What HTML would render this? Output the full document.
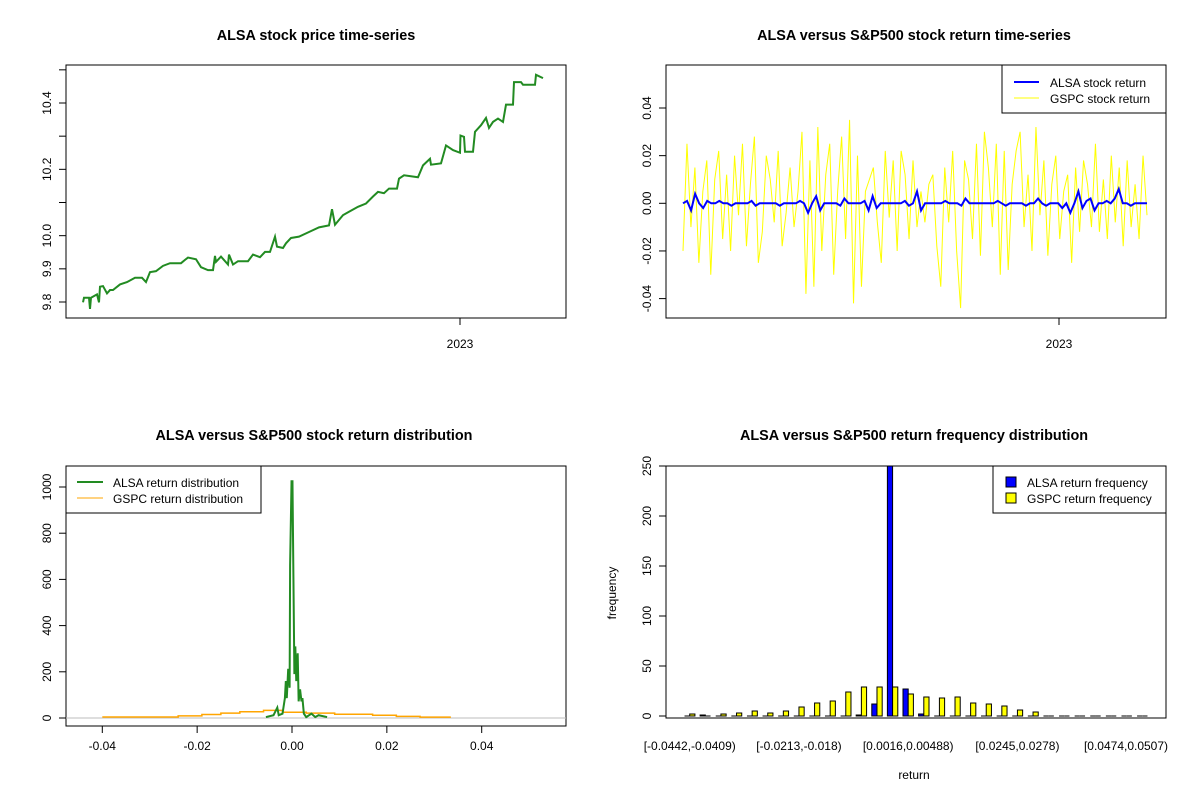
<!DOCTYPE html>
<html><head><meta charset="utf-8"><style>
body{margin:0;background:#fff}
svg{display:block;font-family:"Liberation Sans",Arial,sans-serif}
</style></head><body>
<svg id="c" width="1200" height="800" viewBox="0 0 1200 800"></svg>
<script>
// ---------- data ----------
const priceDays=[0,1,6,7,8,14,16,17,20,24,27,30,37,44,52,59,63,67,73,80,87,98,102,105,113,118,125,130,132,133,138,145,146,150,155,165,170,177,182,187,192,194,200,203,208,216,226,236,246,249,252,260,266,275,283,290,295,301,306,314,316,321,335,340,347,348,358,363,370,377,377.5,381,382,390,392,398,403,406,410,415,420,423,430,431,438,440,452,453,460];
const priceVals=[9.799,9.813,9.813,9.779,9.813,9.823,9.799,9.846,9.848,9.826,9.836,9.836,9.853,9.860,9.873,9.873,9.860,9.890,9.893,9.909,9.917,9.917,9.927,9.934,9.929,9.905,9.896,9.896,9.939,9.921,9.937,9.913,9.943,9.913,9.923,9.923,9.943,9.935,9.951,9.951,9.997,9.967,9.963,9.977,9.993,9.997,10.011,10.025,10.031,10.080,10.033,10.062,10.072,10.087,10.097,10.118,10.132,10.128,10.142,10.142,10.172,10.182,10.176,10.212,10.232,10.214,10.218,10.272,10.258,10.250,10.302,10.298,10.253,10.253,10.313,10.333,10.355,10.325,10.343,10.353,10.343,10.395,10.395,10.463,10.463,10.455,10.455,10.485,10.475];
const gspcRet=[-20,25,-10,15,-25,5,18,-30,10,22,-15,12,-20,20,-5,25,-18,8,28,-25,-12,20,10,-8,22,-18,-4,15,-10,5,30,-38,18,-35,32,-20,12,25,-30,5,28,-15,35,-42,20,-35,5,10,15,-8,-25,22,-6,18,-20,22,12,-15,18,-10,5,-8,8,12,-18,-35,15,-8,22,-20,-44,18,10,-15,25,-22,30,15,-10,25,-30,22,-28,8,22,30,-10,12,-20,32,-5,18,-22,8,20,-15,5,12,-25,15,-12,18,8,-10,25,-12,10,-15,20,-8,15,-18,18,-10,8,-15,20,-5];
const alsaRet=[0,1,-3,4,0,-2,1,0,0,1,0,0,-1,0,0,0,0,1,-1,0,0,0,0,0,-1,0,0,0,0,1,0,-4,0,3,-3,0,0,0,0,-1,2,0,0,0,0,1,-3,3,-2,0,0,0,0,0,0,1,-1,0,5,-3,0,0,0,0,0,1,0,0,0,-1,2,0,0,0,0,0,0,0,1,0,-1,0,0,0,0,-1,0,0,2,0,-1,0,0,0,-2,0,-4,0,5,-2,1,2,-3,0,0,1,0,2,6,0,0,-1,0,0,0,0];
const alsaDensX=[-0.0055,-0.0039,-0.0031,-0.0028,-0.002,-0.0015,-0.0013,-0.0011,-0.0008,-0.0005,-0.0004,-0.0001,0.0001,0.0003,0.0005,0.0007,0.0009,0.0012,0.0014,0.0017,0.002,0.0022,0.0025,0.003,0.0041,0.0049,0.0056,0.0074];
const alsaDensY=[4,12,45,12,19,86,160,86,213,131,660,1025,1025,608,190,310,160,280,72,124,72,86,19,4,19,4,12,4];
const gspcDensX=[-0.04,-0.024,-0.019,-0.015,-0.011,-0.006,-0.002,0.003,0.009,0.017,0.022,0.027,0.0335];
const gspcDensY=[4.5,9,15,21,27,33,25,21,16,12,7,4,4];
const binLabels=["[-0.0442,-0.0409)","[-0.0213,-0.018)","[0.0016,0.00488)","[0.0245,0.0278)","[0.0474,0.0507)"];
const alsaFreq=[0,1,0,0,0,0,0,0,0,0,0,1,12,330,27,2,0,0,0,0,0,0,0,0,0,0,0,0,0,0];
const gspcFreq=[2,0,2,3,5,3,5,9,13,15,24,29,29,29,22,19,18,19,13,12,10,6,4,0,0,0,0,0,0,0];

// ---------- helpers ----------
const svg=document.getElementById('c');const NS='http://www.w3.org/2000/svg';
function mk(tag,attrs,parent,name,txt){const e=document.createElementNS(NS,tag);for(const k in attrs)e.setAttribute(k,attrs[k]);


if(txt!==undefined)e.textContent=txt;(parent||svg).appendChild(e);return e;}
function lin(d0,d1,r0,r1){return v=>r0+(v-d0)/(d1-d0)*(r1-r0);}
function box(x0,y0,x1,y1,g,n){mk('rect',{x:x0,y:y0,width:x1-x0,height:y1-y0,fill:'none',stroke:'#000','stroke-width':1},g,n);}
function yTick(x,y,label,g){mk('line',{x1:x-7,x2:x,y1:y,y2:y,stroke:'#000'},g,'y-tick');if(label!==null)mk('text',{x:x-15,y:y,'font-size':12,'text-anchor':'middle',transform:`rotate(-90 ${x-15} ${y})`},g,'y-tick-label',label);}
function xTick(x,y,label,g,ly){mk('line',{x1:x,x2:x,y1:y,y2:y+7,stroke:'#000'},g,'x-tick');if(label!==null)mk('text',{x:x,y:ly||y+30,'font-size':12,'text-anchor':'middle'},g,'x-tick-label',label);}
function title(x,y,t,g){mk('text',{x:x,y:y,'font-size':14.4,'font-weight':'bold','text-anchor':'middle'},g,'chart-title',t);}

// ---------- panel 1 ----------
{const g=mk('g',{},svg,'price-panel');
const X=lin(0,464,83,547),Y=lin(9.8,10.4,302,103);
title(316,40,'ALSA stock price time-series',g);
box(66,65,566,318,g,'plot-frame');
[9.8,9.9,10.0,10.1,10.2,10.3,10.4,10.5].forEach(v=>{const lab={9.8:'9.8',9.9:'9.9',10:'10.0',10.2:'10.2',10.4:'10.4'}[v];yTick(66,Y(v),lab===undefined?null:lab,g);});
xTick(460,318,'2023',g,348);
mk('polyline',{points:priceDays.map((d,i)=>X(d)+','+Y(priceVals[i])).join(' '),fill:'none',stroke:'#228b22','stroke-width':2},g,'alsa-price-line');}

// ---------- panel 2 ----------
{const g=mk('g',{},svg,'return-panel');
title(914,40,'ALSA versus S&P500 stock return time-series',g);
const n=gspcRet.length;const X=lin(0,n-1,683,1147),Y=lin(0,0.04,203.3,108);
box(666,65,1166,318,g,'plot-frame');
[[-0.04,'-0.04'],[-0.02,'-0.02'],[0,'0.00'],[0.02,'0.02'],[0.04,'0.04']].forEach(t=>yTick(666,Y(t[0]),t[1],g));
xTick(1059,318,'2023',g,348);
mk('polyline',{points:gspcRet.map((v,i)=>X(i)+','+Y(v/1000)).join(' '),fill:'none',stroke:'#ffff00','stroke-width':1},g,'gspc-return-line');
const Xa=lin(0,alsaRet.length-1,683,1147);
mk('polyline',{points:alsaRet.map((v,i)=>Xa(i)+','+Y(v/1000)).join(' '),fill:'none',stroke:'#0000ff','stroke-width':2},g,'alsa-return-line');
const lg=mk('g',{},g,'legend');
mk('rect',{x:1002,y:65,width:164,height:48,fill:'#fff',stroke:'#000'},lg,'legend-box');
mk('line',{x1:1014,x2:1039,y1:82,y2:82,stroke:'#0000ff','stroke-width':2},lg,'legend-swatch-alsa');
mk('text',{x:1050,y:87,'font-size':12},lg,'legend-label-alsa','ALSA stock return');
mk('line',{x1:1014,x2:1039,y1:98,y2:98,stroke:'#ffff00','stroke-width':1},lg,'legend-swatch-gspc');
mk('text',{x:1050,y:103,'font-size':12},lg,'legend-label-gspc','GSPC stock return');}

// ---------- panel 3 ----------
{const g=mk('g',{},svg,'density-panel');
title(314,440,'ALSA versus S&P500 stock return distribution',g);
const X=lin(0,0.04,292,481.7),Y=lin(0,1000,718,487);
box(66,466,566,726,g,'plot-frame');
[0,200,400,600,800,1000].forEach(v=>yTick(66,Y(v),String(v),g));
[[-0.04,'-0.04'],[-0.02,'-0.02'],[0,'0.00'],[0.02,'0.02'],[0.04,'0.04']].forEach(t=>xTick(X(t[0]),726,t[1],g,750));
mk('line',{x1:66,x2:566,y1:Y(0),y2:Y(0),stroke:'#bebebe'},g,'zero-line');
let pts=[];gspcDensX.forEach((x,i)=>{if(i<gspcDensX.length-1){pts.push(X(x)+','+Y(gspcDensY[i]));pts.push(X(gspcDensX[i+1])+','+Y(gspcDensY[i]));}});
mk('polyline',{points:pts.join(' '),fill:'none',stroke:'#ffa500','stroke-width':1.5},g,'gspc-density-line');
mk('polyline',{points:alsaDensX.map((x,i)=>X(x)+','+Y(alsaDensY[i])).join(' '),fill:'none',stroke:'#228b22','stroke-width':2},g,'alsa-density-line');
const lg=mk('g',{},g,'legend');
mk('rect',{x:66,y:466,width:195,height:47,fill:'#fff',stroke:'#000'},lg,'legend-box');
mk('line',{x1:77,x2:103,y1:482,y2:482,stroke:'#228b22','stroke-width':2},lg,'legend-swatch-alsa');
mk('text',{x:113,y:487,'font-size':12},lg,'legend-label-alsa','ALSA return distribution');
mk('line',{x1:77,x2:103,y1:498,y2:498,stroke:'#ffa500'},lg,'legend-swatch-gspc');
mk('text',{x:113,y:503,'font-size':12},lg,'legend-label-gspc','GSPC return distribution');}

// ---------- panel 4 ----------
{const g=mk('g',{},svg,'histogram-panel');
title(914,440,'ALSA versus S&P500 return frequency distribution',g);
const n=alsaFreq.length,lo=1,hi=n*3,pad=(hi-lo)*0.04;
const X=lin(lo-pad,hi+pad,666,1166),Y=lin(0,250,716,466);
const clip=mk('clipPath',{id:'hc'},g,'clip');mk('rect',{x:666,y:466,width:500,height:252},clip,'clip-rect');
const bars=mk('g',{'clip-path':'url(#hc)'},g,'bars');
function bar(l,v,fill,name){if(v>0){mk('rect',{x:X(l),y:Y(v),width:X(l+1)-X(l),height:Y(0)-Y(v),fill:fill,stroke:'#000'},bars,name);}else{mk('line',{x1:X(l),x2:X(l+1),y1:Y(0),y2:Y(0),stroke:'#000'},bars,name);}}
for(let i=0;i<n;i++){const l=1+i*3;bar(l,alsaFreq[i],'#0000ff','bar-alsa');bar(l+1,gspcFreq[i],'#ffff00','bar-gspc');}
box(666,466,1166,718,g,'plot-frame');
[0,50,100,150,200,250].forEach(v=>yTick(666,Y(v),String(v),g));
binLabels.forEach((t,k)=>{const i=k*7;mk('text',{x:Math.min(X(2+i*3),1126),y:750,'font-size':12,'text-anchor':'middle'},g,'x-bin-label',t);});
mk('text',{x:914,y:779,'font-size':12,'text-anchor':'middle'},g,'x-axis-title','return');
mk('text',{x:616,y:593,'font-size':12,'text-anchor':'middle',transform:'rotate(-90 616 593)'},g,'y-axis-title','frequency');
const lg=mk('g',{},g,'legend');
mk('rect',{x:993,y:466,width:173,height:47,fill:'#fff',stroke:'#000'},lg,'legend-box');
mk('rect',{x:1006,y:477,width:10,height:10,fill:'#0000ff',stroke:'#000'},lg,'legend-swatch-alsa');
mk('text',{x:1027,y:487,'font-size':12},lg,'legend-label-alsa','ALSA return frequency');
mk('rect',{x:1006,y:493,width:10,height:10,fill:'#ffff00',stroke:'#000'},lg,'legend-swatch-gspc');
mk('text',{x:1027,y:503,'font-size':12},lg,'legend-label-gspc','GSPC return frequency');}
</script>
</body></html>
